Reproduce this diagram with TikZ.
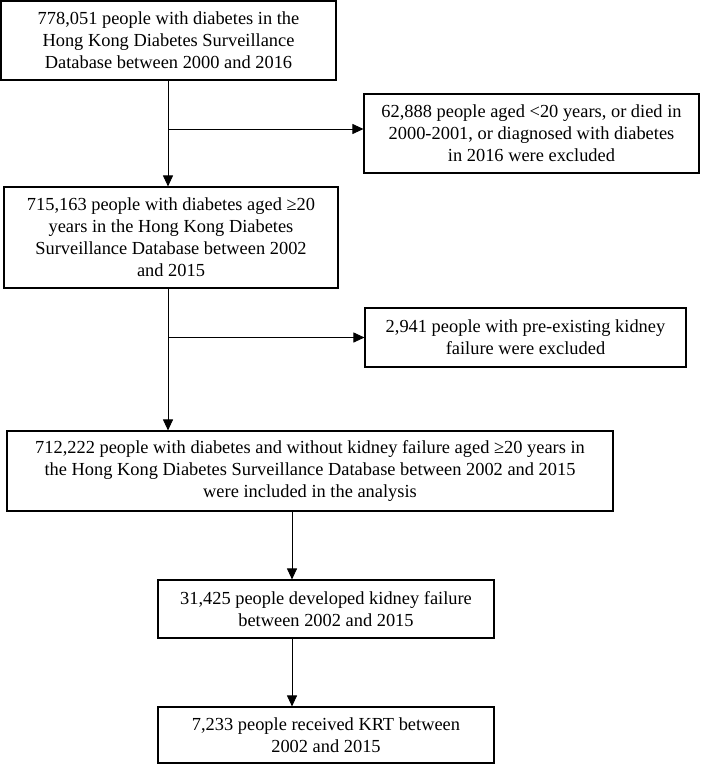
\documentclass[tikz,border=0pt]{standalone}
\usepackage{fontspec}
\setmainfont{Liberation Serif}
\usetikzlibrary{arrows.meta}
\begin{document}
\begin{tikzpicture}[x=1pt,y=-1pt,
  box/.style={draw, line width=1.1pt, align=center, inner sep=0pt,
    font=\fontsize{18.4}{22}\selectfont},
  arr/.style={line width=0.9pt, -{Triangle[length=11pt,width=10pt]}}]
\useasboundingbox (0,0) rectangle (701,765);
\node[box, minimum width=335pt, minimum height=79pt] (b1) at (168.5,40.5)
  {778,051 people with diabetes in the\\Hong Kong Diabetes Surveillance\\Database between 2000 and 2016};
\node[box, minimum width=335pt, minimum height=79pt] (b2) at (531.5,133.5)
  {62,888 people aged <20 years, or died in\\2000-2001, or diagnosed with diabetes\\in 2016 were excluded};
\node[box, minimum width=334pt, minimum height=101pt] (b3) at (171,237.5)
  {715,163 people with diabetes aged ≥20\\years in the Hong Kong Diabetes\\Surveillance Database between 2002\\and 2015};
\node[box, minimum width=321pt, minimum height=59pt] (b4) at (525.5,337.5)
  {2,941 people with pre-existing kidney\\failure were excluded};
\node[box, minimum width=606pt, minimum height=80pt] (b5) at (310,471)
  {712,222 people with diabetes and without kidney failure aged ≥20 years in\\the Hong Kong Diabetes Surveillance Database between 2002 and 2015\\were included in the analysis};
\node[box, minimum width=336pt, minimum height=58pt] (b6) at (326,609)
  {31,425 people developed kidney failure\\between 2002 and 2015};
\node[box, minimum width=336pt, minimum height=56pt] (b7) at (326,735)
  {7,233 people received KRT between\\2002 and 2015};
\coordinate (ax) at (168,0);
\coordinate (bx) at (292,0);
\coordinate (j1) at (168,129);
\coordinate (j2) at (168,337.5);
\draw[arr] (b1.south -| ax) -- (b3.north -| ax);
\draw[arr] (j1) -- (b2.west |- j1);
\draw[arr] (b3.south -| ax) -- (b5.north -| ax);
\draw[arr] (j2) -- (b4.west |- j2);
\draw[arr] (b5.south -| bx) -- (b6.north -| bx);
\draw[arr] (b6.south -| bx) -- (b7.north -| bx);
\end{tikzpicture}
\end{document}
